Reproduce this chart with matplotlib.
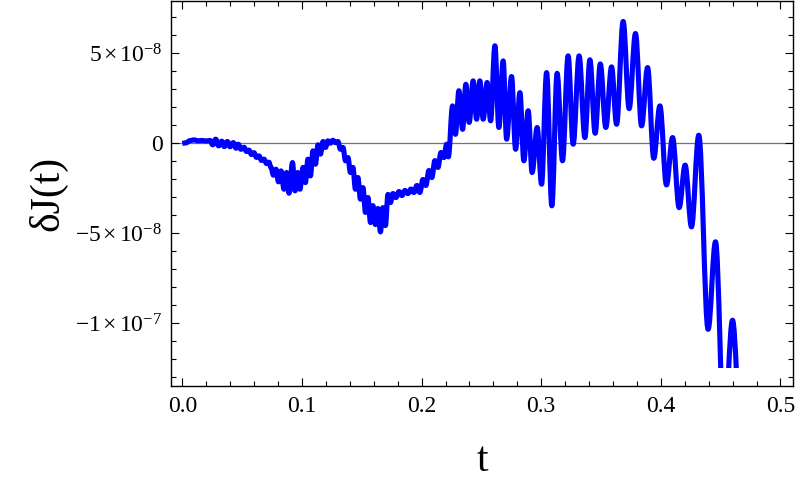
import matplotlib
matplotlib.use('Agg')
import matplotlib.pyplot as plt
from matplotlib.path import Path
from matplotlib.patches import PathPatch, Rectangle
from matplotlib.ticker import MultipleLocator

plt.rcParams['font.family'] = ['Liberation Serif', 'DejaVu Serif']
plt.rcParams['mathtext.fontset'] = 'custom'
plt.rcParams['mathtext.rm'] = 'Liberation Serif'
plt.rcParams['mathtext.it'] = 'Liberation Serif:italic'

# extrema of the curve; dJ in units of 1e-8
t = [0.0000, 0.0031, 0.0064, 0.0098, 0.0131, 0.0165, 0.0198, 0.0231,
     0.0254, 0.0279, 0.0304, 0.0329, 0.0351, 0.0376, 0.0399, 0.0426, 0.0449, 0.0468, 0.0490,
     0.0516, 0.0536, 0.0557, 0.0578, 0.0599, 0.0620, 0.0641, 0.0662, 0.0683, 0.0704, 0.0724,
     0.0741, 0.0762, 0.0783, 0.0804, 0.0825, 0.0850, 0.0871, 0.0892, 0.0921, 0.0942,
     0.0963, 0.0983, 0.1009, 0.1029, 0.1050, 0.1071, 0.1092, 0.1113, 0.1134, 0.1155,
     0.1176, 0.1197, 0.1217, 0.1238, 0.1259, 0.1280, 0.1301, 0.1322, 0.1343, 0.1364,
     0.1385, 0.1405, 0.1426, 0.1447, 0.1468, 0.1489, 0.1510, 0.1531, 0.1552, 0.1573,
     0.1593, 0.1614, 0.1635, 0.1656, 0.1677, 0.1698, 0.1719, 0.1740, 0.1760, 0.1786,
     0.1811, 0.1836, 0.1861, 0.1886, 0.1911, 0.1936, 0.1961, 0.1986, 0.2011, 0.2036,
     0.2061, 0.2086, 0.2111, 0.2137, 0.2162, 0.2187, 0.2209, 0.2224,
     0.2259, 0.2283, 0.2312, 0.2343, 0.2370, 0.2398, 0.2431, 0.2460, 0.2487, 0.2515,
     0.2548, 0.2577, 0.2613, 0.2646, 0.2682, 0.2711, 0.2752, 0.2786, 0.2822, 0.2855,
     0.2891, 0.2924, 0.2966, 0.3003, 0.3045, 0.3089, 0.3133, 0.3178, 0.3225, 0.3267,
     0.3317, 0.3365, 0.3407, 0.3451, 0.3494, 0.3540, 0.3588, 0.3630, 0.3685, 0.3735,
     0.3788, 0.3839, 0.3889, 0.3941, 0.3992, 0.4047, 0.4098, 0.4153, 0.4203, 0.4256,
     0.4317, 0.4395, 0.4457, 0.4529, 0.4599, 0.4668]
dj = [0.00, 0.03, 0.15, 0.19, 0.14, 0.16, 0.13, 0.16,
      -0.08, 0.23, -0.14, 0.12, -0.18, 0.10, -0.19, 0.04, -0.27, -0.05, -0.33,
      -0.22, -0.45, -0.38, -0.62, -0.52, -0.78, -0.70, -0.95, -0.88, -1.12, -1.05,
      -1.34, -1.77, -1.44, -2.14, -1.53, -2.55, -1.62, -2.77, -1.07, -2.64,
      -1.62, -2.55, -1.34, -2.18, -0.88, -1.81, -0.42, -1.16, -0.08, -0.60,
      0.10, -0.23, 0.14, 0.01, 0.17, 0.04, 0.10, -0.33, -0.23, -0.97,
      -0.79, -1.62, -1.34, -2.55, -1.90, -3.10, -2.46, -3.84, -3.01, -4.40,
      -3.46, -4.51, -3.62, -4.92, -3.57, -4.57, -2.84, -3.29, -2.79, -3.01,
      -2.68, -2.90, -2.62, -2.79, -2.54, -2.73, -2.34, -2.73, -2.01, -2.34,
      -1.51, -1.90, -0.96, -1.34, -0.51, -0.79, -0.05, -0.75,
      2.08, 0.50, 2.92, 0.78, 3.28, 1.16, 3.47, 1.34, 3.47, 1.34,
      3.38, 1.25, 5.42, 0.88, 4.58, 0.23, 3.71, -0.33, 2.82, -0.97,
      1.81, -1.62, 0.88, -2.27, 3.93, -3.47, 3.89, -0.97, 4.86, -0.05,
      4.86, 0.32, 4.64, 0.56, 4.41, 0.88, 4.25, 1.06, 6.77, 1.93,
      6.10, 0.97, 4.21, -0.83, 2.08, -2.31, 0.32, -3.57, -1.21, -4.64,
      0.45, -10.33, -5.47, -16.0, -9.83, -16.0]

xticks = [0.0, 0.1, 0.2, 0.3, 0.4, 0.5]
xtick_labels = ['0.0', '0.1', '0.2', '0.3', '0.4', '0.5']
yticks = [-1e-7, -5e-8, 0, 5e-8]
ytick_labels = [r'$-1\,{\times}\,10^{-7}$', r'$-5\,{\times}\,10^{-8}$', '0',
                r'$5\,{\times}\,10^{-8}$']
y_clip = -1.25e-7


def smooth_path(x, y, k=0.36):
    # cubic segments with flat tangents at each read extremum
    verts = [(x[0], y[0])]
    codes = [Path.MOVETO]
    for i in range(len(x) - 1):
        dx = x[i + 1] - x[i]
        verts += [(x[i] + k * dx, y[i]), (x[i + 1] - k * dx, y[i + 1]), (x[i + 1], y[i + 1])]
        codes += [Path.CURVE4] * 3
    return Path(verts, codes)


fig = plt.figure(figsize=(8, 4.82), dpi=100)
ax = fig.add_axes([0.2134, 0.1992, 0.7779, 0.7977])

ax.axhline(0, color='0.45', lw=0.9, zorder=1)

yv = [v * 1e-8 for v in dj]
line = PathPatch(smooth_path(t, yv), facecolor='none', edgecolor=(0, 0, 1),
                 lw=3.7, joinstyle='round', capstyle='butt', zorder=2)
ax.add_patch(line)
clip = Rectangle((-0.1, y_clip), 1.0, 1e-6, transform=ax.transData)
line.set_clip_path(clip)

ax.set_xlim(-0.00969, 0.5105)
ax.set_ylim(-13.48e-8, 7.88e-8)

ax.set_xticks(xticks)
ax.set_xticklabels(xtick_labels)
ax.set_yticks(yticks)
ax.set_yticklabels(ytick_labels)
ax.xaxis.set_minor_locator(MultipleLocator(0.02))
ax.yaxis.set_minor_locator(MultipleLocator(1e-8))
ax.tick_params(which='both', direction='in', top=True, right=True, width=0.8,
               labelsize=17)
ax.tick_params(axis='x', pad=7)
ax.tick_params(axis='y', pad=6)
ax.tick_params(which='major', length=6)
ax.tick_params(which='minor', length=3.5)
for s in ax.spines.values():
    s.set_linewidth(1.0)

ax.set_xlabel('t', fontsize=30, labelpad=18)
ax.set_ylabel('δJ(t)', fontsize=30, labelpad=6)

plt.savefig('out.png', dpi=100)
